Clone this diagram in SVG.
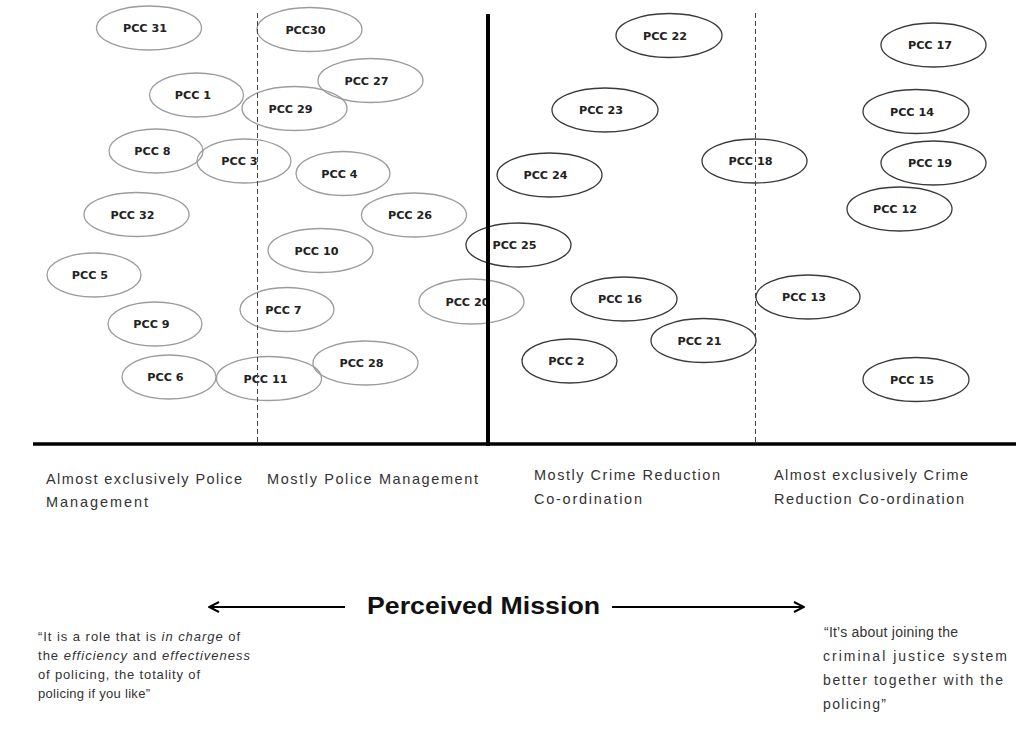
<svg xmlns="http://www.w3.org/2000/svg" width="1016" height="731" viewBox="0 0 1016 731">
<style>
.n ellipse{fill:none;stroke-width:1.3}
.g ellipse{stroke:#9c9c9c}
.d ellipse{stroke:#3a3a3a}
.n text{font-family:"DejaVu Sans",Verdana,sans-serif;font-weight:bold;font-size:11.2px;fill:#222;text-anchor:middle}
.lab{font-family:"Liberation Sans",Arial,sans-serif;font-size:14.5px;fill:#333}
.q{font-family:"Liberation Sans",Arial,sans-serif;font-size:13px;fill:#333}
.qr{font-size:14px}
.q tspan.i{font-style:italic}
.title{font-family:"Liberation Sans",Arial,sans-serif;font-size:23px;font-weight:bold;fill:#111}
.dash{stroke:#444;stroke-width:1;stroke-dasharray:5 3;fill:none}
.ax{stroke:#000;fill:none}
</style>
<defs>
<marker id="ah" viewBox="0 0 12 12" refX="11" refY="6" markerWidth="12" markerHeight="12" markerUnits="userSpaceOnUse" orient="auto-start-reverse">
<path d="M1,1 L11,6 L1,11" fill="none" stroke="#000" stroke-width="2"/>
</marker>
</defs>
<rect width="1016" height="731" fill="#fff"/>

<g id="pcc31" class="n g"><ellipse cx="149" cy="28" rx="52.5" ry="22"/><text x="145" y="32">PCC 31</text></g>
<g id="pcc30" class="n g"><ellipse cx="309.5" cy="29.5" rx="52.5" ry="22"/><text x="305.5" y="33.5">PCC30</text></g>
<g id="pcc1" class="n g"><ellipse cx="196.5" cy="95" rx="47" ry="22"/><text x="193" y="99">PCC 1</text></g>
<g id="pcc27" class="n g"><ellipse cx="370.5" cy="80.5" rx="52.5" ry="22"/><text x="366.5" y="84.5">PCC 27</text></g>
<g id="pcc29" class="n g"><ellipse cx="294.5" cy="108.5" rx="52.5" ry="22"/><text x="290.5" y="112.5">PCC 29</text></g>
<g id="pcc8" class="n g"><ellipse cx="156" cy="151" rx="47" ry="22"/><text x="152.5" y="155">PCC 8</text></g>
<g id="pcc3" class="n g"><ellipse cx="244" cy="161" rx="47" ry="22"/><text x="239.5" y="165">PCC 3</text></g>
<g id="pcc4" class="n g"><ellipse cx="343" cy="173.5" rx="47" ry="22"/><text x="339.5" y="177.5">PCC 4</text></g>
<g id="pcc32" class="n g"><ellipse cx="136.5" cy="214.5" rx="52.5" ry="22"/><text x="132.5" y="218.5">PCC 32</text></g>
<g id="pcc26" class="n g"><ellipse cx="414" cy="215" rx="52.5" ry="22"/><text x="410" y="219">PCC 26</text></g>
<g id="pcc10" class="n g"><ellipse cx="320.5" cy="250.5" rx="52.5" ry="22"/><text x="316.5" y="254.5">PCC 10</text></g>
<g id="pcc5" class="n g"><ellipse cx="94" cy="275" rx="47" ry="22"/><text x="90" y="279">PCC 5</text></g>
<g id="pcc7" class="n g"><ellipse cx="287" cy="309.5" rx="47" ry="22"/><text x="283.5" y="313.5">PCC 7</text></g>
<g id="pcc20" class="n g"><ellipse cx="471.5" cy="301.5" rx="52.5" ry="22.5"/><text x="467.5" y="305.5">PCC 20</text></g>
<g id="pcc9" class="n g"><ellipse cx="155" cy="324" rx="47" ry="22"/><text x="151.5" y="328">PCC 9</text></g>
<g id="pcc28" class="n g"><ellipse cx="365.5" cy="363" rx="52.5" ry="22"/><text x="361.5" y="367">PCC 28</text></g>
<g id="pcc6" class="n g"><ellipse cx="169" cy="377" rx="47" ry="22"/><text x="165.5" y="381">PCC 6</text></g>
<g id="pcc11" class="n g"><ellipse cx="269" cy="378.5" rx="52.5" ry="22"/><text x="265.5" y="382.5">PCC 11</text></g>

<g id="pcc22" class="n d"><ellipse cx="669" cy="35.5" rx="53" ry="22"/><text x="665" y="39.5">PCC 22</text></g>
<g id="pcc17" class="n d"><ellipse cx="933.5" cy="45" rx="52.5" ry="22"/><text x="930" y="49">PCC 17</text></g>
<g id="pcc23" class="n d"><ellipse cx="605" cy="110" rx="53" ry="22"/><text x="601" y="114">PCC 23</text></g>
<g id="pcc14" class="n d"><ellipse cx="916" cy="111.5" rx="53" ry="22"/><text x="912" y="115.5">PCC 14</text></g>
<g id="pcc24" class="n d"><ellipse cx="549.5" cy="175" rx="52.5" ry="22"/><text x="545.5" y="179">PCC 24</text></g>
<g id="pcc18" class="n d"><ellipse cx="754.5" cy="161" rx="52.5" ry="22"/><text x="750.5" y="165">PCC 18</text></g>
<g id="pcc19" class="n d"><ellipse cx="933.5" cy="163" rx="52.5" ry="22"/><text x="930" y="167">PCC 19</text></g>
<g id="pcc12" class="n d"><ellipse cx="899.5" cy="209" rx="52.5" ry="22"/><text x="895" y="213">PCC 12</text></g>
<g id="pcc25" class="n d"><ellipse cx="518.5" cy="245" rx="52.5" ry="22"/><text x="514.5" y="249">PCC 25</text></g>
<g id="pcc16" class="n d"><ellipse cx="624" cy="299" rx="53" ry="22"/><text x="620" y="303">PCC 16</text></g>
<g id="pcc13" class="n d"><ellipse cx="808" cy="297" rx="52" ry="22"/><text x="804" y="301">PCC 13</text></g>
<g id="pcc21" class="n d"><ellipse cx="703.5" cy="340.5" rx="52.5" ry="22"/><text x="699.5" y="344.5">PCC 21</text></g>
<g id="pcc2" class="n d"><ellipse cx="569.5" cy="361" rx="47.5" ry="22"/><text x="566.5" y="365">PCC 2</text></g>
<g id="pcc15" class="n d"><ellipse cx="916" cy="379.5" rx="53" ry="22"/><text x="912" y="383.5">PCC 15</text></g>

<g id="connectors">
<line class="dash" x1="257.5" y1="13" x2="257.5" y2="443"/>
<line class="dash" x1="755.5" y1="13" x2="755.5" y2="443"/>
<line class="ax" x1="488" y1="14" x2="488" y2="446" stroke-width="4"/>
<line class="ax" x1="33" y1="444" x2="1016" y2="444" stroke-width="3.5"/>
<line class="ax" x1="345" y1="607" x2="209" y2="607" stroke-width="2" marker-end="url(#ah)"/>
<line class="ax" x1="612" y1="607" x2="804" y2="607" stroke-width="2" marker-end="url(#ah)"/>
</g>

<g id="labels">
<text class="lab" x="46" y="484" textLength="196" lengthAdjust="spacing">Almost exclusively Police</text>
<text class="lab" x="46" y="507" textLength="102" lengthAdjust="spacing">Management</text>
<text class="lab" x="267" y="484" textLength="211" lengthAdjust="spacing">Mostly Police Management</text>
<text class="lab" x="534" y="480" textLength="186" lengthAdjust="spacing">Mostly Crime Reduction</text>
<text class="lab" x="534" y="504" textLength="108" lengthAdjust="spacing">Co-ordination</text>
<text class="lab" x="774" y="480" textLength="194" lengthAdjust="spacing">Almost exclusively Crime</text>
<text class="lab" x="774" y="504" textLength="190" lengthAdjust="spacing">Reduction Co-ordination</text>
<text class="title" x="367" y="614" textLength="233" lengthAdjust="spacingAndGlyphs">Perceived Mission</text>
</g>

<g id="quote-left">
<text class="q" x="38" y="641" textLength="202" lengthAdjust="spacing">“It is a role that is <tspan class="i">in charge</tspan> of</text>
<text class="q" x="38" y="660" textLength="212" lengthAdjust="spacing">the <tspan class="i">efficiency</tspan> and <tspan class="i">effectiveness</tspan></text>
<text class="q" x="38" y="679" textLength="162" lengthAdjust="spacing">of policing, the totality of</text>
<text class="q" x="38" y="698" textLength="112" lengthAdjust="spacing">policing if you like”</text>
</g>
<g id="quote-right">
<text class="q qr" x="824" y="637" textLength="134" lengthAdjust="spacing">“It’s about joining the</text>
<text class="q qr" x="823" y="661" textLength="184" lengthAdjust="spacing">criminal justice system</text>
<text class="q qr" x="823" y="685" textLength="180" lengthAdjust="spacing">better together with the</text>
<text class="q qr" x="823" y="709" textLength="63" lengthAdjust="spacing">policing”</text>
</g>
</svg>
